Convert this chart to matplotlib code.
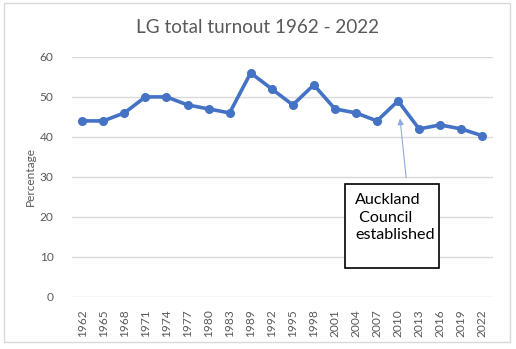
import matplotlib.pyplot as plt
from matplotlib.patches import Rectangle

# Turnout data
years = ["1962", "1965", "1968", "1971", "1974", "1977", "1980", "1983", "1989", "1992",
         "1995", "1998", "2001", "2004", "2007", "2010", "2013", "2016", "2019", "2022"]
turnout = [44, 44, 46, 50, 50, 48, 47, 46, 56, 52,
           48, 53, 47, 46, 44, 49, 42, 43, 42, 40.3]
y_ticks = [0, 10, 20, 30, 40, 50, 60]

plt.rcParams['font.family'] = ['Lato', 'DejaVu Sans']
GREY = '#595959'
GRID = '#D9D9D9'

fig = plt.figure(figsize=(5.16, 3.49), dpi=100)
ax = fig.add_axes([0.139, 0.149, 0.816, 0.688])

x = list(range(len(years)))
ax.plot(x, turnout, color='#4472C4', linewidth=2.6, marker='o', markersize=5.5, zorder=3)

ax.set_xlim(-0.5, len(years) - 0.5)
ax.set_ylim(0, 60)
ax.set_yticks(y_ticks)
ax.set_xticks(x)
ax.set_xticklabels(years, rotation=90, fontsize=8.6, color=GREY)
ax.tick_params(axis='y', labelsize=8.6, colors=GREY, length=0, pad=13)
ax.tick_params(axis='x', length=0, pad=9)
ax.grid(axis='y', color=GRID, linewidth=1)
ax.set_axisbelow(True)
for s in ax.spines.values():
    s.set_visible(False)

ax.set_ylabel("Percentage", fontsize=8.6, color=GREY, labelpad=3)
fig.text(0.5, 0.922, "LG total turnout 1962 - 2022", ha='center', va='center',
         fontsize=13.6, color=GREY)

# annotation: arrow and box
ax.annotate("", xy=(15.08, 45.3), xytext=(15.4, 29.1),
            arrowprops=dict(arrowstyle='-|>', color='#8FAADC', lw=0.8, mutation_scale=9))
ax.add_patch(Rectangle((12.47, 7.2), 4.48, 21.0, facecolor='white', edgecolor='black',
                       linewidth=1.2, zorder=4, clip_on=False))
ax.text(12.95, 25.9, "Auckland\n Council\nestablished", ha='left', va='top',
        fontsize=11.6, color='black', linespacing=1.32, zorder=5)

# outer chart border
fig.patches.append(Rectangle((4 / 516, 1 - 342 / 349), 506 / 516, 339 / 349,
                             transform=fig.transFigure, fill=False, edgecolor=GRID,
                             linewidth=1))

fig.savefig("out.png", dpi=100)
